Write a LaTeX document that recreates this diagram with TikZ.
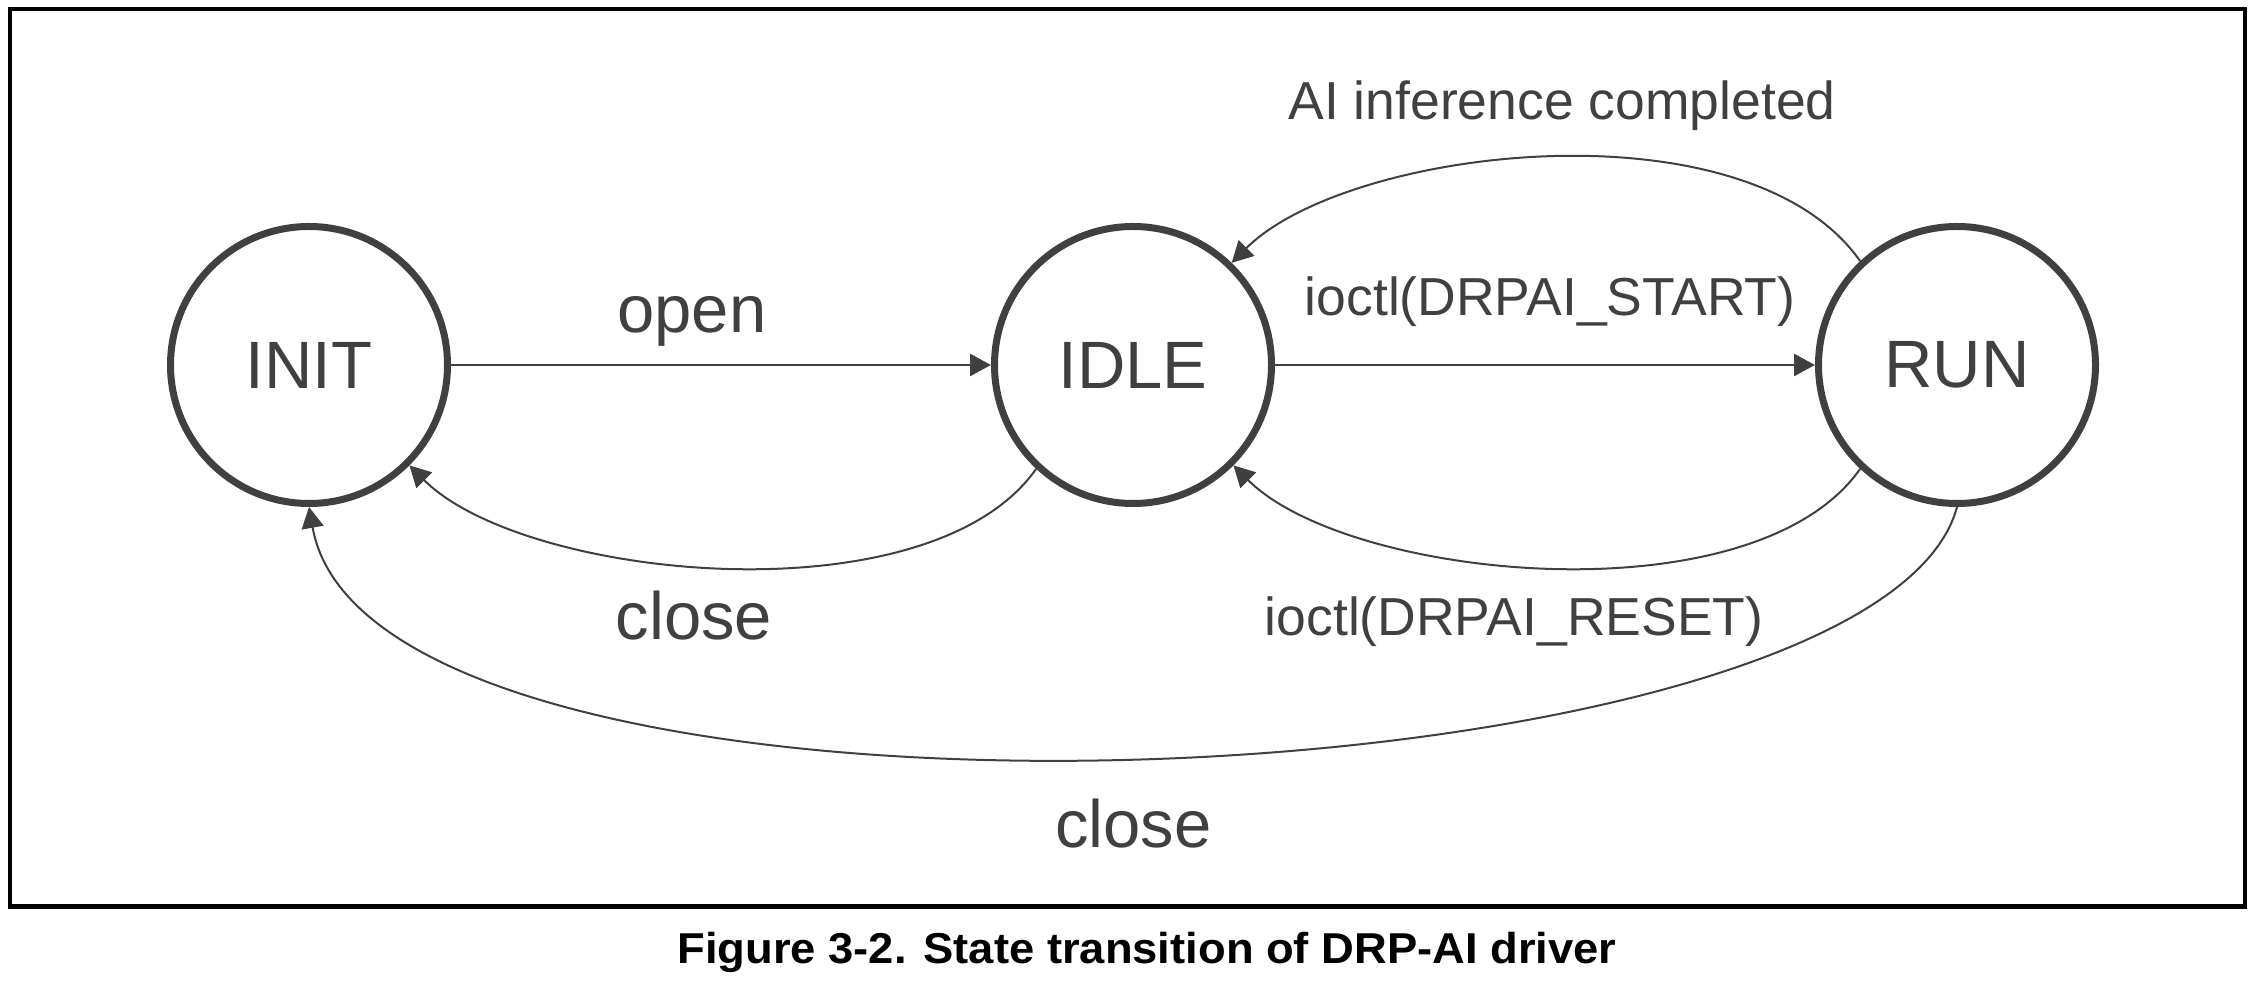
\documentclass[tikz,border=0pt]{standalone}
\usepackage{fontspec}
\setmainfont{Liberation Sans}
\newfontfamily\capfont[FakeStretch=1.05]{Liberation Sans}
\usetikzlibrary{arrows.meta}
\definecolor{stategray}{RGB}{64,64,64}
\tikzset{
	statenode/.style={circle, draw=stategray, line width=3.5pt, minimum size=138.5pt, inner sep=0pt, text=stategray, font=\fontsize{33.5}{40}\selectfont},
	biglabel/.style={anchor=base, inner sep=0pt, text=stategray, font=\fontsize{33.5}{40}\selectfont},
	smalllabel/.style={anchor=base, inner sep=0pt, text=stategray, font=\fontsize{26.75}{32}\selectfont},
	trans/.style={draw=stategray, line width=1.3pt, -{Triangle[length=10.5pt,width=11pt]}},
	curvetrans/.style={trans, line width=1pt},
}

\begin{document}
\begin{tikzpicture}[x=0.5pt, y=0.5pt]
			%%%%% FRAME %%%%%
			\useasboundingbox (0, 0) rectangle (2255, 985);
			\draw[line width=2.25pt] (10, 976) rectangle (2245, 78.5);
			
			%%%%% STATES %%%%%
			\node[statenode] (init) at (309, 620) {INIT};
			\node[statenode] (idle) at (1133, 620) {IDLE};
			\node[statenode] (run) at (1957, 620) {RUN};
			
			%%%%% TRANSITIONS %%%%%
			\draw[trans] (init) -- (idle);
			\draw[trans] (idle) -- (run);
			\draw[curvetrans] (run.133) .. controls +(125:98.5pt) and +(45:82pt) .. (idle.46);
			\draw[curvetrans] (idle.227) .. controls +(-125:92.5pt) and +(-45:81.5pt) .. (init.-45);
			\draw[curvetrans] (run.227) .. controls +(-125:92.5pt) and +(-45:81.5pt) .. (idle.-45);
			\draw[curvetrans] (run.-90) .. controls +(-105:157pt) and +(-80:185pt) .. (init.-90);
			
			%%%%% LABELS %%%%%
			\node[biglabel] (lopen) at (692, 652) {open};
			\node[smalllabel] (lstart) at (1550, 669) {ioctl(DRPAI\_START)};
			\node[smalllabel] (ldone) at (1562, 865) {AI inference completed};
			\node[biglabel] (lclosea) at (694, 345) {close};
			\node[smalllabel] (lreset) at (1514, 349) {ioctl(DRPAI\_RESET)};
			\node[biglabel] (lcloseb) at (1133.5, 137) {close};
			
			%%%%% CAPTION %%%%%
			\node[anchor=base, inner sep=0pt, font=\capfont\bfseries\fontsize{21.6}{26}\selectfont] (caption) at (1147, 21) {Figure 3-2. State transition of DRP-AI driver};
\end{tikzpicture}
\end{document}
